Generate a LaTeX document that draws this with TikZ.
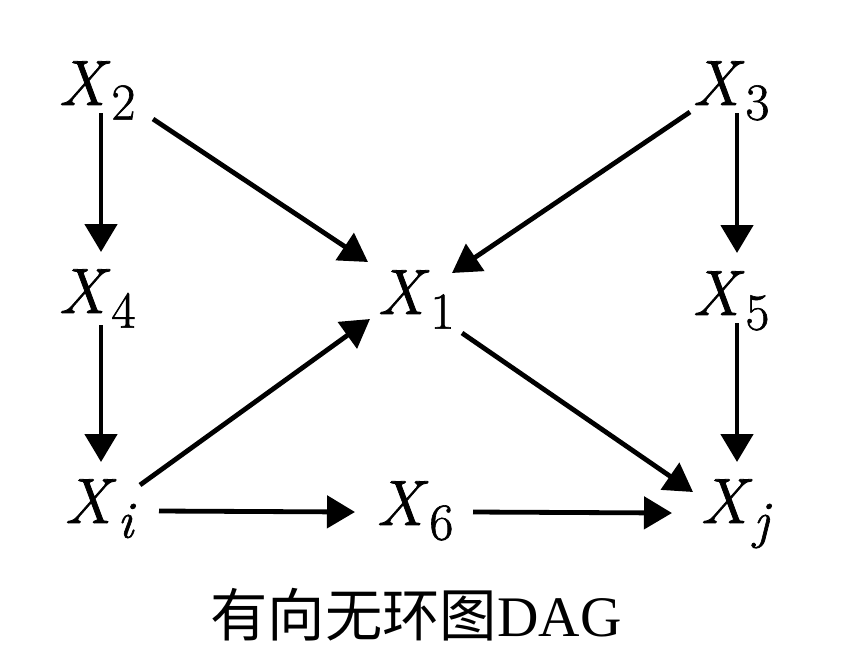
\documentclass[tikz,border=0pt]{standalone}
\usepackage{fontspec}
\newfontfamily\cjk{Noto Sans CJK SC}
\newfontfamily\capserif{Liberation Serif}
\newfontfamily\varfont{Latin Modern Roman}[FakeBold=1.2]
\usetikzlibrary{arrows.meta}
\newcommand{\xsub}[1]{\textit{X}\kern1pt\raisebox{-11pt}{\fontsize{39}{42}\selectfont #1}}
\tikzset{
  var/.style={anchor=base west, inner sep=0pt, font=\varfont\fontsize{48}{56}\selectfont},
  arr/.style={line width=3.6pt, -{Triangle[width=24pt,length=21pt]}},
  captiontext/.style={anchor=base, inner sep=0pt, font=\fontsize{43}{50}\selectfont}
}
\begin{document}
\begin{tikzpicture}[x=0.75pt,y=-0.75pt]
\useasboundingbox (0,0) rectangle (841,662);
\node[var] (X2) at (58,105) {\xsub{2}};
\node[var] (X3) at (692,105) {\xsub{3}};
\node[var] (X4) at (58,313) {\xsub{4}};
\node[var] (X1) at (377,314) {\xsub{1}};
\node[var] (X5) at (692,315) {\xsub{5}};
\node[var] (Xi) at (64,523) {\xsub{\textit{i}}};
\node[var] (X6) at (376,525) {\xsub{6}};
\node[var] (Xj) at (700,523) {\xsub{\textit{j}}};
\node[captiontext] (title) at (416,636) {{\cjk 有向无环图}{\capserif DAG}};
\draw[arr] ([shift={(43,8)}]X2.base west) -- ([shift={(43,-61)}]X4.base west);
\draw[arr] ([shift={(95,14)}]X2.base west) -- ([shift={(-9,-52)}]X1.base west);
\draw[arr] ([shift={(-2,7)}]X3.base west) -- ([shift={(75,-41)}]X1.base west);
\draw[arr] ([shift={(45,8)}]X3.base west) -- ([shift={(45,-62)}]X5.base west);
\draw[arr] ([shift={(43,12)}]X4.base west) -- ([shift={(37,-61)}]Xi.base west);
\draw[arr] ([shift={(76,-38)}]Xi.base west) -- ([shift={(-7,5)}]X1.base west);
\draw[arr] ([shift={(85,19)}]X1.base west) -- ([shift={(-7,-31)}]Xj.base west);
\draw[arr] ([shift={(45,8)}]X5.base west) -- ([shift={(37,-61)}]Xj.base west);
\draw[arr] ([shift={(95,-12)}]Xi.base west) -- ([shift={(-21,-13)}]X6.base west);
\draw[arr] ([shift={(97,-13)}]X6.base west) -- ([shift={(-28,-10)}]Xj.base west);
\end{tikzpicture}
\end{document}
